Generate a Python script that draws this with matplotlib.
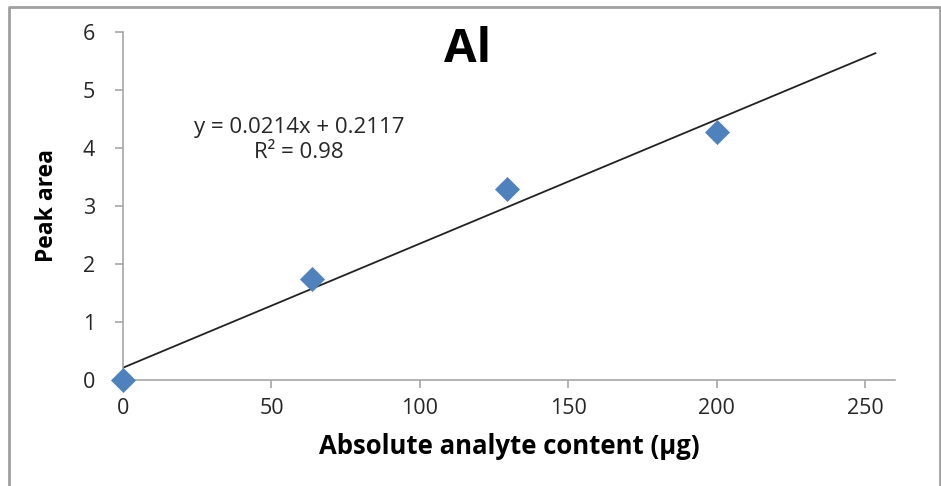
import matplotlib
matplotlib.use("Agg")
import matplotlib.pyplot as plt
from matplotlib.lines import Line2D
import numpy as np

plt.rcParams['font.family'] = ['Open Sans', 'DejaVu Sans']

# Calibration points for aluminium
content_ug = [0, 63.7, 129.4, 200.1]
peak_area = [0.0, 1.74, 3.29, 4.28]

# Linear trendline reported for the series
slope = 0.0214
intercept = 0.2117
r_squared = 0.98
trend_x_end = 253.4

x_ticks = [0, 50, 100, 150, 200, 250]
y_ticks = [0, 1, 2, 3, 4, 5, 6]

fig = plt.figure(figsize=(9.41, 4.86), dpi=100)
ax = fig.add_axes([123 / 941, 1 - 380 / 486, (895 - 123) / 941, (380 - 32) / 486])

axis_gray = '#a6a6a6'

tx = np.array([0, trend_x_end])
ax.plot(tx, slope * tx + intercept, color='#222222', lw=1.3, zorder=2)
ax.scatter(content_ug, peak_area, marker='D', s=150, color='#4f81bd',
           edgecolors='#4f81bd', linewidths=0.5, zorder=3, clip_on=False)

ax.set_xlim(0, 260)
ax.set_ylim(0, 6)
ax.set_xticks(x_ticks)
ax.set_yticks(y_ticks)
ax.margins(0)

for side in ('top', 'right'):
    ax.spines[side].set_visible(False)
for side in ('left', 'bottom'):
    ax.spines[side].set_color(axis_gray)
    ax.spines[side].set_linewidth(1.2)
ax.tick_params(axis='both', direction='out', length=6, width=1.2, color=axis_gray,
               labelsize=15.5, labelcolor='#262626')
ax.tick_params(axis='x', pad=7)
ax.tick_params(axis='y', pad=14)

ax.set_xlabel('Absolute analyte content (µg)', fontsize=18.5, fontweight='bold', labelpad=10)
ax.set_ylabel('Peak area', fontsize=16.5, fontweight='bold', labelpad=17)

fig.text(468 / 941, 1 - 50 / 486, 'Al', fontsize=34, fontweight='bold',
         ha='center', va='center')

eq_text = f'y = {slope}x + {intercept}\nR² = {r_squared}'
fig.text(299 / 941, 1 - 140 / 486, eq_text, fontsize=16, ha='center', va='center',
         color='#262626', linespacing=1.2)

# Chart-area border
border_gray = '#a0a0a0'
W, H = 941, 486
fig.add_artist(Line2D([9 / W, 9 / W, 940 / W, 940 / W],
                      [-0.05, 1 - 7 / H, 1 - 7 / H, -0.05],
                      transform=fig.transFigure, color=border_gray, lw=2))

fig.savefig('out.png', dpi=100)
